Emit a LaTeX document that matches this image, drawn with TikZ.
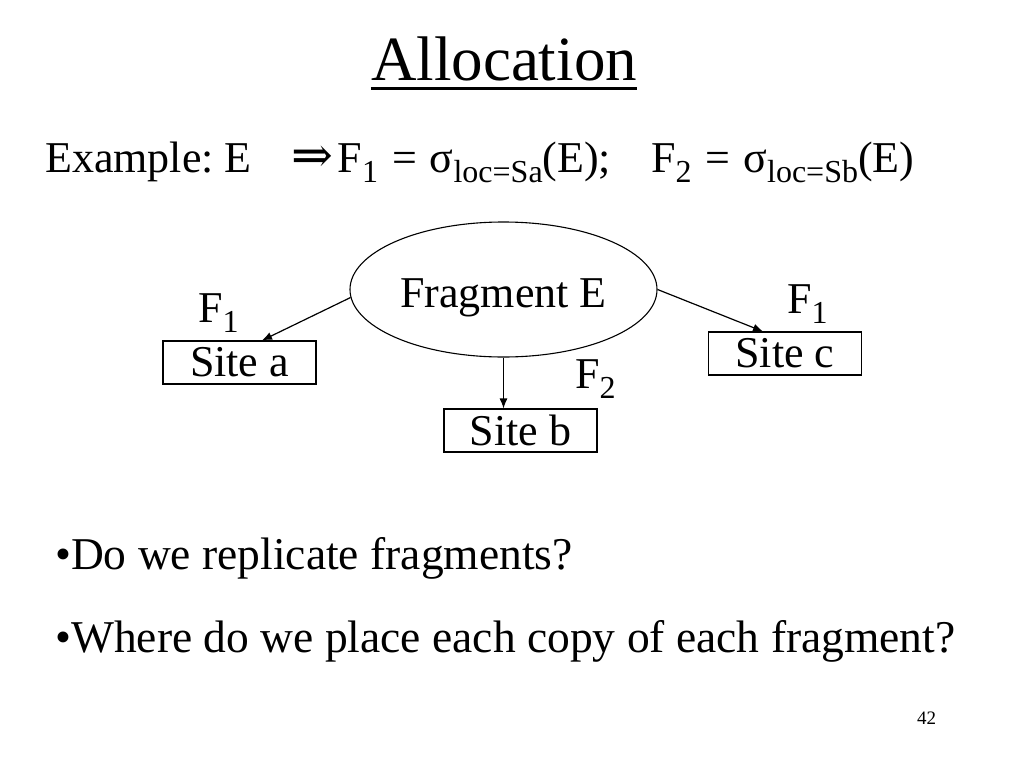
\documentclass[tikz,border=0pt]{standalone}
\usepackage{fontspec}
\setmainfont{Liberation Serif}
\newfontfamily\arrowfont{DejaVu Serif}
\usetikzlibrary{shapes.geometric,arrows.meta}
\newcommand\lsub[1]{\raisebox{-10pt}{\fontsize{32}{32}\selectfont #1}}
\newcommand\eqsp{\hspace{14pt}=\hspace{13pt}}
\frenchspacing

\begin{document}
\begin{tikzpicture}[ x=1pt, y=-1pt, >={Latex[length=10pt,width=8pt]},
        txt/.style={ inner sep=0pt, anchor=base west,
          font=\fontsize{44}{50}\selectfont },
        fragment/.style={ ellipse, draw, line width=1.1pt, inner sep=0pt,
          minimum width=307pt, minimum height=135pt, text height=35pt,
          text depth=0pt, font=\fontsize{44}{50}\selectfont },
        site/.style={ draw, line width=1.1pt, inner sep=0pt,
          minimum width=153pt, minimum height=43pt,
          font=\fontsize{44}{50}\selectfont },
        alloc/.style={ ->, line width=1.2pt } ]
        \useasboundingbox (0,0) rectangle (1024,768);

        \node[txt,anchor=base,font=\fontsize{63}{70}\selectfont] (title)
        at (504,80) {Allocation};
        \draw[line width=3pt] ([yshift=-8pt]title.base west) --
        ([yshift=-8pt]title.base east);

        \node[txt] (ex) at (45,172) {Example: E\hspace{40pt}{\arrowfont
            \fontsize{50}{50}\selectfont ⇒}\hspace{4pt}F\lsub{1}\eqsp
          σ\lsub{loc=Sa}(E);\hspace{40pt}F\lsub{2}\eqsp σ\lsub{loc=Sb}(E)};

        \node[fragment] (frag) at (503.5,289.5) {Fragment E};

        \foreach \x/\y/\l in {239.5/362.5/a,520.5/430.5/b,785/353.5/c}
        \node[site] (s\l) at (\x,\y) {Site \l};

        \foreach \x/\y/\n/\s in {198/322/1/a,575/388/2/b,787/313/1/c}
        \node[txt] (f\s) at (\x,\y) {F\lsub{\n}};

        \draw[alloc] (frag.183) -- ([xshift=22.5pt]sa.north);
        \draw[alloc] (frag.south) -- (frag.south |- sb.north);
        \draw[alloc] (frag.east) -- ([xshift=-22pt]sc.north);

        \node[txt,font=\fontsize{45.5}{50}\selectfont] (q1) at (55,569)
        {•Do we replicate fragments?};
        \node[txt,font=\fontsize{45.5}{50}\selectfont] (q2) at (55,652)
        {•Where do we place each copy of each fragment?};

        \node[txt,font=\fontsize{19}{22}\selectfont] (page) at (917,724) {42};
      \end{tikzpicture}
\end{document}
